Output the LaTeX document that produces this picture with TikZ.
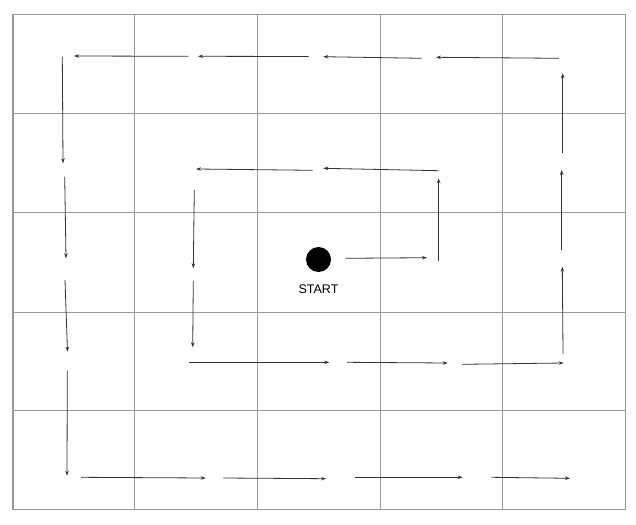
\documentclass[tikz,border=0pt]{standalone}
\usepackage{fontspec}
\setmainfont{Liberation Sans}
\usetikzlibrary{arrows.meta}
\definecolor{gridgray}{HTML}{9A9A9A}
\definecolor{arrowgray}{HTML}{333333}
\tikzset{
  gridline/.style={draw=gridgray, line width=1pt},
  arr/.style={draw=arrowgray, line width=0.8pt, -{Stealth[length=5pt,width=3.5pt]}},
  startdot/.style={circle, fill=black, minimum size=25pt, inner sep=0pt},
  startlabel/.style={font=\fontsize{12.5}{14}\selectfont, inner sep=0pt}
}
\begin{document}
\begin{tikzpicture}[x=1pt,y=-1pt]
\useasboundingbox (0,0) rectangle (636,524);
\fill[white] (0,0) rectangle (636,524);
% grid
\foreach \gx in {134.5,257,380.5,502.5}
  \draw[gridline] (\gx,14.5) -- (\gx,509.5);
\foreach \gy in {113.3,212,312,410.7}
  \draw[gridline] (13,\gy) -- (625.5,\gy);
\draw[gridline, line width=1.2pt] (13,14.5) rectangle (625.5,509.5);
% start
\node[startdot] (start) at (318.5,259.5) {};
\node[startlabel] (startlbl) at (318.5,289) {START};
% arrows
\foreach \i/\xa/\ya/\xb/\yb in {
  t1/559/58.3/436/57.3,
  t2/421.7/58.3/323.3/56.7,
  t3/308.7/56.5/198/56.3,
  t4/188.3/56.3/74/56,
  l1/62.3/56.7/63/163.3,
  l2/64.7/176.7/66/258.3,
  l3/65/280/67.5/351.7,
  l4/67.3/370.7/67/475.7,
  b1/81/477.3/205.7/478,
  b2/223.3/478/326/478.7,
  b3/354.7/477.3/462.7/477.3,
  b4/491.7/477.3/570/478.3,
  r1/563/354/562.3/266.7,
  r2/561.7/250/561.7/170,
  r3/562.7/152.7/562.7/73.3,
  s1/345.3/258.3/427/257.7,
  s2/438.7/261/438.7/178.3,
  s3/438.7/170.7/323.3/168.3,
  s4/312.7/170.3/196/169,
  s5/194.3/190/193.3/268.3,
  s6/193.3/280.7/192.7/347.3,
  s7/189.3/362.3/329.3/362.3,
  s8/347/362.3/447.7/363,
  s9/462/364.3/563.7/363}
{
  \coordinate (\i s) at (\xa,\ya);
  \coordinate (\i e) at (\xb,\yb);
  \draw[arr] (\i s) -- (\i e);
}
\end{tikzpicture}
\end{document}
